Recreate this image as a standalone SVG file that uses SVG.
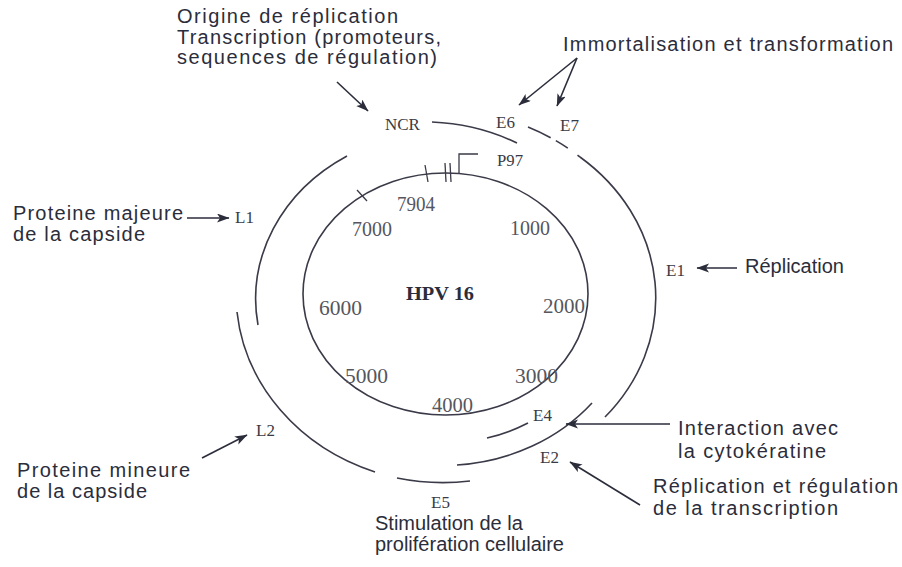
<svg xmlns="http://www.w3.org/2000/svg" width="902" height="567" viewBox="0 0 902 567">
  <defs>
    <marker id="head" markerWidth="13" markerHeight="10" refX="12" refY="4.5" orient="auto" markerUnits="userSpaceOnUse">
      <path d="M0,0 L12.5,4.5 L0,9 L3,4.5 z" fill="#2b2d3b"/>
    </marker>
    <style>
      .lbl { font-family: "Liberation Sans", Arial, sans-serif; font-size: 20px; fill: #2b2d3b; }
      .gene { font-family: "Liberation Serif", "Times New Roman", serif; font-size: 17px; fill: #3a3a44; }
      .pos { font-family: "Liberation Serif", "Times New Roman", serif; font-size: 20px; fill: #55565e; }
      .title { font-family: "Liberation Serif", "Times New Roman", serif; font-size: 19px; font-weight: bold; fill: #2b2d3b; }
      .orf { fill: none; stroke: #3a3a48; stroke-width: 1.6; }
      .arrow { fill: none; stroke: #2b2d3b; stroke-width: 1.6; marker-end: url(#head); }
      .tick { fill: none; stroke: #3a3a48; stroke-width: 1.3; }
    </style>
  </defs>

  <rect width="902" height="567" fill="#ffffff"/>

  <!-- genome circle with position marks -->
  <g id="genome">
    <ellipse cx="445.5" cy="294" rx="142.5" ry="121" class="orf"/>
    <line x1="357" y1="190" x2="367" y2="201" class="tick"/>
    <line x1="425" y1="165" x2="428" y2="182" class="tick"/>
    <line x1="445" y1="163" x2="446" y2="182" class="tick"/>
    <line x1="450" y1="163" x2="451" y2="182" class="tick"/>
    <text x="440" y="300" class="title" textLength="68" lengthAdjust="spacingAndGlyphs" text-anchor="middle">HPV 16</text>
    <text x="397" y="211" class="pos" textLength="38" lengthAdjust="spacingAndGlyphs">7904</text>
    <text x="352" y="236" class="pos" textLength="40" lengthAdjust="spacingAndGlyphs">7000</text>
    <text x="510" y="235" class="pos" textLength="40" lengthAdjust="spacingAndGlyphs">1000</text>
    <text x="319" y="315" class="pos" textLength="43" lengthAdjust="spacingAndGlyphs">6000</text>
    <text x="543" y="313" class="pos" textLength="42" lengthAdjust="spacingAndGlyphs">2000</text>
    <text x="345" y="383" class="pos" textLength="43" lengthAdjust="spacingAndGlyphs">5000</text>
    <text x="515" y="383" class="pos" textLength="43" lengthAdjust="spacingAndGlyphs">3000</text>
    <text x="432" y="412" class="pos" textLength="41" lengthAdjust="spacingAndGlyphs">4000</text>
  </g>

  <!-- early promoter -->
  <g id="p97">
    <path d="M459,173 V154 H478" class="tick"/>
    <text x="497" y="166" class="gene" font-size="15" textLength="26" lengthAdjust="spacingAndGlyphs">P97</text>
  </g>

  <!-- open reading frames -->
  <g id="ncr">
    <text x="385" y="130" class="gene">NCR</text>
  </g>
  <g id="e6">
    <path d="M432,122 A195,172 0 0 1 517,143" class="orf"/>
    <text x="496" y="128" class="gene">E6</text>
  </g>
  <g id="e7">
    <path d="M528,127 A210,183 0 0 1 580,157" class="orf" stroke-dasharray="25 6 14 12"/>
    <text x="560" y="131" class="gene">E7</text>
  </g>
  <g id="e1">
    <path d="M580,157 A210,183 0 0 1 605,417" class="orf"/>
    <text x="666" y="276" class="gene">E1</text>
  </g>
  <g id="e4">
    <path d="M528,423 A165,150 0 0 1 487,438" class="orf"/>
    <text x="533" y="421" class="gene">E4</text>
  </g>
  <g id="e2">
    <path d="M592,403 A192,170 0 0 1 457,465" class="orf"/>
    <text x="540" y="463" class="gene">E2</text>
  </g>
  <g id="e5">
    <path d="M470,481 A210,190 0 0 1 397,478" class="orf"/>
    <text x="431" y="508" class="gene">E5</text>
  </g>
  <g id="l2">
    <path d="M375,472 A210,190 0 0 1 237,312" class="orf"/>
    <text x="256" y="436" class="gene">L2</text>
  </g>
  <g id="l1">
    <path d="M258,325 A192,168 0 0 1 347,156" class="orf"/>
    <text x="235" y="223" class="gene">L1</text>
  </g>

  <!-- function notes -->
  <g id="note-ncr">
    <text x="177" y="23" class="lbl" textLength="221" lengthAdjust="spacing">Origine de réplication</text>
    <text x="177" y="44" class="lbl" textLength="264" lengthAdjust="spacing">Transcription (promoteurs,</text>
    <text x="177" y="64" class="lbl" textLength="260" lengthAdjust="spacing">sequences de régulation)</text>
  </g>
  <g id="note-e6e7">
    <text x="563" y="51" class="lbl" textLength="330" lengthAdjust="spacing">Immortalisation et transformation</text>
  </g>
  <g id="note-l1">
    <text x="13" y="220" class="lbl" textLength="170" lengthAdjust="spacing">Proteine majeure</text>
    <text x="13" y="241" class="lbl" textLength="132" lengthAdjust="spacing">de la capside</text>
  </g>
  <g id="note-e1">
    <text x="745" y="273" class="lbl" font-size="19">Réplication</text>
  </g>
  <g id="note-l2">
    <text x="17" y="477" class="lbl" textLength="173" lengthAdjust="spacing">Proteine mineure</text>
    <text x="17" y="498" class="lbl" textLength="130" lengthAdjust="spacing">de la capside</text>
  </g>
  <g id="note-e5">
    <text x="375" y="530" class="lbl">Stimulation de la</text>
    <text x="375" y="551" class="lbl">prolifération cellulaire</text>
  </g>
  <g id="note-e4">
    <text x="678" y="435" class="lbl" textLength="160" lengthAdjust="spacing">Interaction avec</text>
    <text x="678" y="458" class="lbl" textLength="148" lengthAdjust="spacing">la cytokératine</text>
  </g>
  <g id="note-e2">
    <text x="653" y="493" class="lbl" textLength="245" lengthAdjust="spacing">Réplication et régulation</text>
    <text x="653" y="515" class="lbl" textLength="185" lengthAdjust="spacing">de la transcription</text>
  </g>

  <!-- pointers from notes to genes -->
  <g id="connectors">
    <line x1="337" y1="82" x2="368" y2="111" class="arrow"/>
    <line x1="577" y1="58" x2="519" y2="105" class="arrow"/>
    <line x1="577" y1="58" x2="557" y2="106" class="arrow"/>
    <line x1="187" y1="218" x2="229" y2="218" class="arrow"/>
    <line x1="737" y1="268" x2="697" y2="268" class="arrow"/>
    <line x1="202" y1="458" x2="247" y2="435" class="arrow"/>
    <line x1="670" y1="424" x2="566" y2="424" class="arrow"/>
    <line x1="640" y1="505" x2="570" y2="462" class="arrow"/>
  </g>
</svg>
